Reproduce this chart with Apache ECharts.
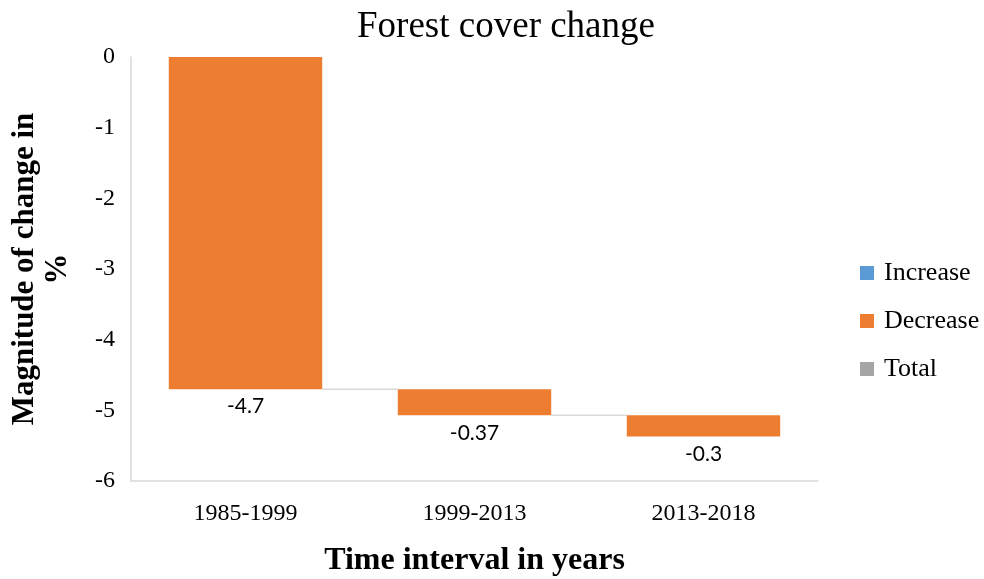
<!DOCTYPE html>
<html>
<head>
<meta charset="utf-8">
<script src="https://cdn.jsdelivr.net/npm/echarts@6/dist/echarts.min.js"></script>
<style>
  html, body { margin: 0; padding: 0; background: #fff; }
  #chart { width: 984px; height: 579px; }
</style>
</head>
<body>
<div id="chart"></div>
<script>
// Forest cover change per interval (%), drawn as a waterfall
const categories = ['1985-1999', '1999-2013', '2013-2018'];
const decreaseValues = [-4.7, -0.37, -0.3];
const increaseValues = [];
const totalValues = [];
const yTicks = { min: -6, max: 0, interval: 1 };

// Running totals: invisible base under each step, and the level each step ends at
const baseValues = [];
const endLevels = [];
let running = 0;
decreaseValues.forEach(function (v) {
  baseValues.push(running);
  running += v;
  endLevels.push(running);
});
const BAR_RATIO = 0.67;

const serif = '"Liberation Serif", "Times New Roman", serif';
const chart = echarts.init(document.getElementById('chart'));

chart.setOption({
  animation: false,
  title: {
    text: 'Forest cover change',
    left: 501,
    textAlign: 'center',
    top: 4,
    textStyle: { fontFamily: serif, fontSize: 37, fontWeight: 'normal', color: '#000' }
  },
  legend: {
    orient: 'vertical',
    left: 855,
    top: 255,
    itemWidth: 14,
    itemHeight: 14,
    itemGap: 22,
    icon: 'rect',
    data: ['Increase', 'Decrease', 'Total'],
    textStyle: { fontFamily: serif, fontSize: 26, color: '#000', padding: [0, 0, 0, 5] }
  },
  grid: { left: 131, right: 166, top: 57, bottom: 98, containLabel: false, outerBoundsMode: 'none' },
  xAxis: {
    type: 'category',
    data: categories,
    name: 'Time interval in years',
    nameLocation: 'middle',
    nameGap: 64,
    nameTextStyle: { fontFamily: serif, fontSize: 32, fontWeight: 'bold', color: '#000' },
    axisLine: { onZero: false, lineStyle: { color: '#d9d9d9', width: 1.5 } },
    axisTick: { show: false },
    axisLabel: { fontFamily: serif, fontSize: 24, color: '#000', margin: 21 }
  },
  yAxis: {
    type: 'value',
    min: yTicks.min,
    max: yTicks.max,
    interval: yTicks.interval,
    name: 'Magnitude of change in\n%',
    nameLocation: 'middle',
    nameGap: 57,
    nameTextStyle: { fontFamily: serif, fontSize: 31, fontWeight: 'bold', color: '#000', lineHeight: 33 },
    axisLine: { show: true, lineStyle: { color: '#d9d9d9', width: 1.5 } },
    axisTick: { show: false },
    splitLine: { show: false },
    axisLabel: { fontFamily: serif, fontSize: 24, color: '#000', margin: 16 }
  },
  series: [
    {
      name: 'Base',
      type: 'bar',
      stack: 'wf',
      barWidth: (BAR_RATIO * 100) + '%',
      itemStyle: { color: 'transparent' },
      emphasis: { disabled: true },
      data: baseValues
    },
    {
      name: 'Increase',
      type: 'bar',
      stack: 'wf',
      itemStyle: { color: '#5B9BD5' },
      data: increaseValues
    },
    {
      name: 'Decrease',
      type: 'bar',
      stack: 'wf',
      itemStyle: { color: '#ED7D31' },
      label: {
        show: true,
        position: 'bottom',
        distance: 7,
        fontFamily: 'Lato, "Open Sans", sans-serif',
        fontSize: 21,
        color: '#000',
        formatter: function (p) { return String(p.value); }
      },
      data: decreaseValues
    },
    {
      name: 'Total',
      type: 'bar',
      stack: 'wf',
      itemStyle: { color: '#A5A5A5' },
      data: totalValues
    },
    {
      // connector lines joining each step's end to the next step
      name: 'Connectors',
      type: 'custom',
      silent: true,
      z: 1,
      data: endLevels.slice(0, -1).map(function (v, i) { return [i, v]; }),
      renderItem: function (params, api) {
        const pt = api.coord([api.value(0), api.value(1)]);
        const band = api.size([1, 0])[0];
        const half = band * BAR_RATIO / 2;
        return {
          type: 'line',
          shape: { x1: pt[0] + half, y1: pt[1], x2: pt[0] + band - half, y2: pt[1] },
          style: { stroke: '#d9d9d9', lineWidth: 1.5 }
        };
      }
    }
  ]
});
</script>
</body>
</html>
